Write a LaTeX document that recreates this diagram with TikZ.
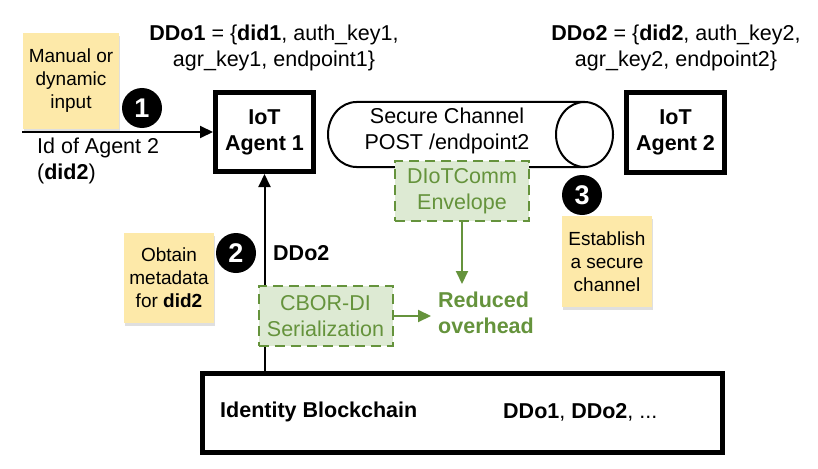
\documentclass[tikz,border=0pt]{standalone}
\usepackage{fontspec}
\setmainfont{Liberation Sans}
\usetikzlibrary{arrows.meta,shadows}
\definecolor{notefill}{HTML}{FDE9A9}
\definecolor{envfill}{HTML}{DDEAD3}
\definecolor{envgreen}{HTML}{65933C}
\begin{document}
\begin{tikzpicture}[x=1pt, y=-1pt,
    every node/.style={font=\fontsize{21.5}{26}\selectfont, inner sep=0pt},
    agent/.style={draw, line width=5pt, minimum width=98pt, minimum height=79pt, align=center, font=\fontsize{21.5}{26}\selectfont\bfseries},
    note/.style={fill=notefill, align=center, font=\fontsize{19}{23}\selectfont, drop shadow={shadow xshift=1pt, shadow yshift=-3pt, opacity=0.25}},
    greenbox/.style={draw=envgreen, fill=envfill, dash pattern=on 10pt off 6pt, line width=2pt, minimum width=134pt, minimum height=60pt, align=center, text=envgreen},
    stepnum/.style={circle, fill=black, minimum size=40pt, text=white, font=\fontsize{27}{30}\selectfont\bfseries},
    link/.style={line width=2pt, -{Triangle[length=13pt, width=12pt]}}]
    \useasboundingbox (0,0) rectangle (818,468);

    % agents and blockchain
    \node[agent] (agA) at (264.5,132) {IoT\\Agent 1};
    \node[agent] (agB) at (675.5,132.5) {IoT\\Agent 2};
    \node[draw, line width=5pt, minimum width=520pt, minimum height=79pt] (chain) at (462.5,413) {};
    \node[anchor=west, font=\fontsize{21.5}{26}\selectfont\bfseries] (chainname) at (220,412) {Identity Blockchain};
    \node[anchor=west] (chainlist) at (503,412) {\textbf{DDo1}, \textbf{DDo2}, ...};

    % secure channel
    \draw[line width=2pt] (584.5,102) -- (356.5,102) arc[start angle=270, end angle=90, x radius=28.5, y radius=32.5] -- (584.5,167);
    \draw[line width=2pt, fill=white] (584.5,134.5) ellipse[x radius=28.5, y radius=32.5];
    \node[align=center] (chan) at (447,131) {Secure Channel\\POST /endpoint2};

    % metadata
    \node[align=center] (ddoA) at (274,48) {\textbf{DDo1} = \{\textbf{did1}, auth\_key1,\\agr\_key1, endpoint1\}};
    \node[align=center] (ddoB) at (676,48) {\textbf{DDo2} = \{\textbf{did2}, auth\_key2,\\agr\_key2, endpoint2\}};

    % input
    \node[note, minimum width=96pt, minimum height=96pt] (manual) at (71,81) {Manual or\\dynamic\\input};
    \coordinate (in) at (22,132);
    \draw[link] (in) -- (agA.west);
    \node[anchor=west, align=left] (idlbl) at (37,161) {Id of Agent 2\\(\textbf{did2})};
    \node[stepnum] (one) at (142,108) {1};

    % resolve
    \draw[link] (chain.north -| agA.south) -- (agA.south);
    \node[stepnum] (two) at (236,253) {2};
    \node[anchor=west, font=\fontsize{21.5}{26}\selectfont\bfseries] (ddolbl) at (273,253) {DDo2};
    \node[note, minimum width=90pt, minimum height=90pt] (obtain) at (169,278) {Obtain\\metadata\\for \textbf{did2}};

    % overhead
    \node[greenbox] (env) at (462,191) {DIoTComm\\Envelope};
    \node[greenbox] (cbor) at (325.5,316) {CBOR-DI\\Serialization};
    \node[anchor=west, align=left, text=envgreen, font=\fontsize{21.5}{26}\selectfont\bfseries] (red) at (438,313) {Reduced\\overhead};
    \coordinate (redtop) at (462,284);
    \coordinate (redleft) at (431,316);
    \draw[link, envgreen] (env.south) -- (redtop);
    \draw[link, envgreen] (cbor.east) -- (redleft);

    % channel setup
    \node[stepnum] (three) at (582,195) {3};
    \node[note, minimum width=90pt, minimum height=91pt] (establish) at (607,261.5) {Establish\\a secure\\channel};
\end{tikzpicture}
\end{document}
